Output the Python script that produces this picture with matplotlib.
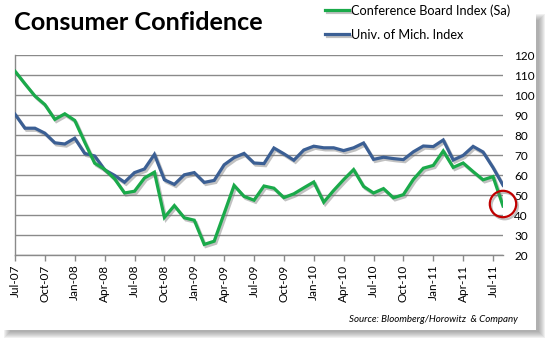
import matplotlib
matplotlib.use("Agg")
import matplotlib.pyplot as plt
import matplotlib.patheffects as pe
from matplotlib.patches import Rectangle
import numpy as np

# Monthly readings, Jul-2007 through Aug-2011
months = ["Jul-07", "Aug-07", "Sep-07", "Oct-07", "Nov-07", "Dec-07",
          "Jan-08", "Feb-08", "Mar-08", "Apr-08", "May-08", "Jun-08",
          "Jul-08", "Aug-08", "Sep-08", "Oct-08", "Nov-08", "Dec-08",
          "Jan-09", "Feb-09", "Mar-09", "Apr-09", "May-09", "Jun-09",
          "Jul-09", "Aug-09", "Sep-09", "Oct-09", "Nov-09", "Dec-09",
          "Jan-10", "Feb-10", "Mar-10", "Apr-10", "May-10", "Jun-10",
          "Jul-10", "Aug-10", "Sep-10", "Oct-10", "Nov-10", "Dec-10",
          "Jan-11", "Feb-11", "Mar-11", "Apr-11", "May-11", "Jun-11",
          "Jul-11", "Aug-11"]

conference_board = [111.9, 105.6, 99.5, 95.2, 87.8, 90.6,
                    87.3, 76.4, 65.9, 62.8, 58.1, 51.0,
                    51.9, 58.5, 61.4, 38.8, 44.7, 38.6,
                    37.4, 25.3, 26.9, 40.8, 54.8, 49.3,
                    47.4, 54.5, 53.4, 48.7, 50.6, 53.6,
                    56.5, 46.4, 52.3, 57.7, 62.7, 54.3,
                    51.0, 53.2, 48.6, 50.2, 57.8, 63.4,
                    64.8, 72.0, 63.8, 66.0, 61.7, 57.6,
                    59.2, 44.5]

univ_michigan = [90.4, 83.4, 83.4, 80.9, 76.1, 75.5,
                 78.4, 70.8, 69.5, 62.6, 59.8, 56.4,
                 61.2, 63.0, 70.3, 57.6, 55.3, 60.1,
                 61.2, 56.3, 57.3, 65.1, 68.7, 70.8,
                 66.0, 65.7, 73.5, 70.6, 67.4, 72.5,
                 74.4, 73.6, 73.6, 72.2, 73.6, 76.0,
                 67.8, 68.9, 68.2, 67.7, 71.6, 74.5,
                 74.2, 77.5, 67.5, 69.8, 74.3, 71.5,
                 63.7, 54.9]

y_ticks = [20, 30, 40, 50, 60, 70, 80, 90, 100, 110, 120]

GREEN = "#1aaa4a"
BLUE = "#3b5f94"
GRID = "#8a8a8a"
FONT = "Lato"

W, H = 551, 343
fig = plt.figure(figsize=(W / 100, H / 100), dpi=100)
fig.patch.set_facecolor("white")


def fx(x):
    return x / W


def fy(y):
    return 1 - y / H


# soft drop shadow behind the white card
for i in range(7):
    fig.add_artist(Rectangle((fx(4 + i), fy(338 - i)), fx(541 - 2 * i), fy(14) - fy(338 - 2 * i),
                             transform=fig.transFigure, facecolor="#606060",
                             edgecolor="none", alpha=0.09, zorder=0))
fig.add_artist(Rectangle((fx(-5), fy(330)), fx(541), fy(-5) - fy(330),
                         transform=fig.transFigure, facecolor="white",
                         edgecolor="none", zorder=0.5))

ax = fig.add_axes([fx(15), fy(255), fx(503) - fx(15), fy(55) - fy(255)])
ax.set_facecolor("none")
ax.set_zorder(2)

x = np.arange(len(months))
shadow = [pe.SimpleLineShadow(offset=(1.2, -1.5), shadow_color="#777777", alpha=0.45),
          pe.Normal()]
ax.plot(x, univ_michigan, color=BLUE, lw=2.3, solid_joinstyle="miter",
        label="Univ. of Mich. Index", path_effects=shadow, zorder=3)
ax.plot(x, conference_board, color=GREEN, lw=2.3, solid_joinstyle="miter",
        label="Conference Board Index (Sa)", path_effects=shadow, zorder=4)

# highlight the latest Conference Board reading
ax.plot(x[-1], conference_board[-1] + 1, marker="o", ms=19, mfc="none",
        mec="#c00000", mew=1.6, zorder=5, clip_on=False, path_effects=shadow)

ax.set_xlim(0, len(months) - 1)
ax.set_ylim(20, 120)
ax.set_yticks(y_ticks)
ax.yaxis.tick_right()
ax.tick_params(axis="y", length=0, pad=8, labelsize=8.5, labelcolor="black")
for lab in ax.get_yticklabels():
    lab.set_fontfamily(FONT)
    lab.set_horizontalalignment("left")
ax.yaxis.grid(True, color=GRID, lw=1.0)
ax.set_axisbelow(True)

q = x[::3]
ax.set_xticks(q)
ax.set_xticklabels([months[i] for i in q], rotation=90, fontsize=8.5, family=FONT)
ax.tick_params(axis="x", direction="out", length=4, width=1, color=GRID, pad=3)

for s in ["top", "right"]:
    ax.spines[s].set_visible(False)
for s in ["left", "bottom"]:
    ax.spines[s].set_color(GRID)
    ax.spines[s].set_linewidth(1.0)

fig.text(fx(14), fy(30), "Consumer Confidence", fontsize=18.2, fontweight="bold",
         family=FONT, va="baseline", ha="left")

handles, labels = ax.get_legend_handles_labels()
fig.legend(handles[::-1], labels[::-1], loc="upper left",
           bbox_to_anchor=(fx(320), fy(-1)), frameon=False,
           prop={"family": FONT, "size": 9.2}, handlelength=1.9, handletextpad=0.15,
           labelspacing=0.95, borderaxespad=0)

fig.text(fx(518), fy(320), "Source: Bloomberg/Horowitz  & Company", fontsize=7,
         style="italic", family=FONT, ha="right", va="center")

fig.savefig("out.png", dpi=100)
